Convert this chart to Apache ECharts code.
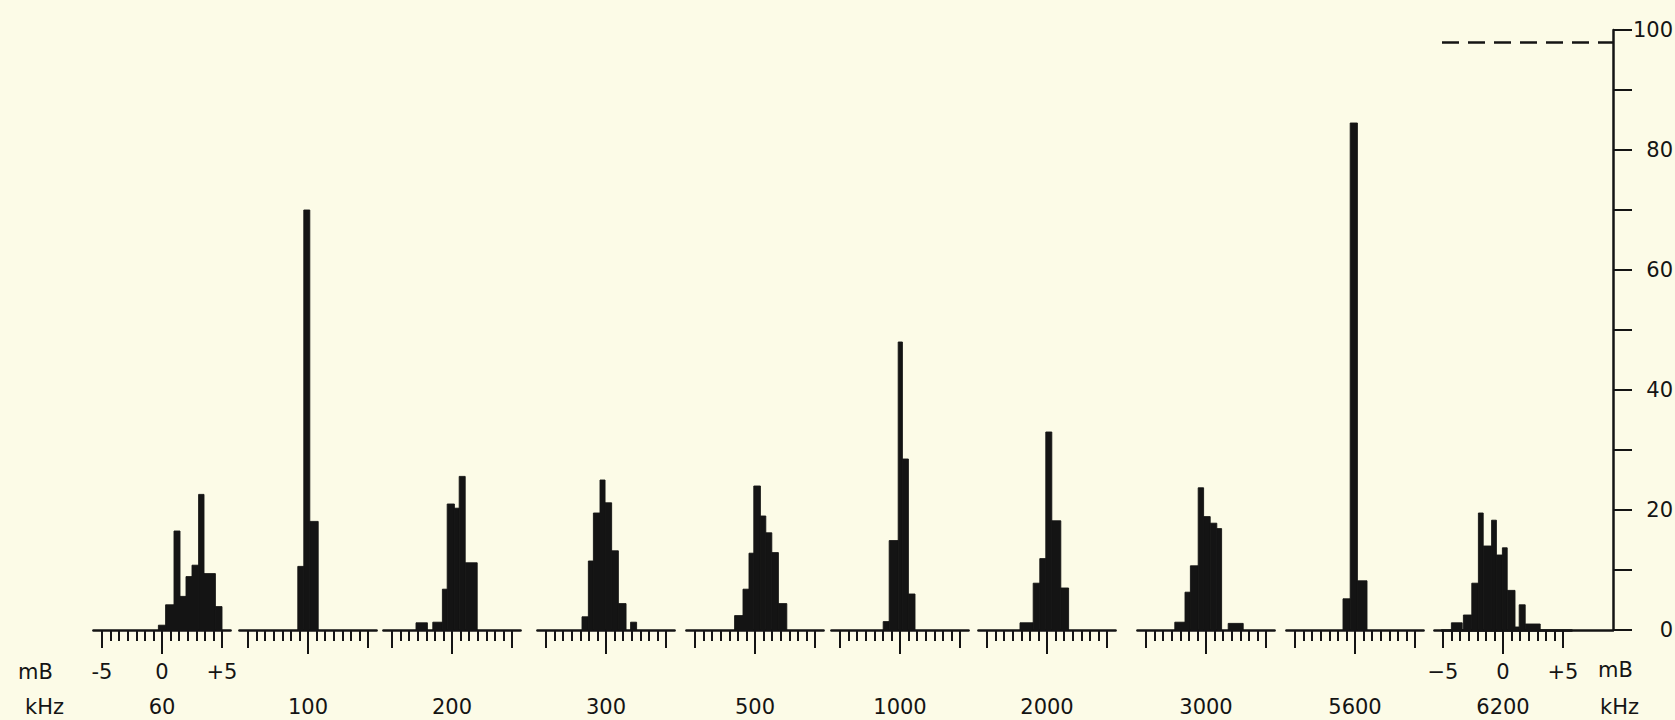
<!DOCTYPE html>
<html>
<head>
<meta charset="utf-8">
<script src="https://cdn.jsdelivr.net/npm/echarts@6/dist/echarts.min.js"></script>
<style>
html,body{margin:0;padding:0;background:#fcfbe7;}
#chart{width:1675px;height:720px;}
</style>
</head>
<body>
<div id="chart"></div>
<script>
// ---- data ----
const frequencies = ['60', '100', '200', '300', '500', '1000', '2000', '3000', '5600', '6200'];

// bin edges (mB) and heights (scale 0-100) for each frequency
const edges60 = [-0.3, 0.3, 1.0, 1.5, 2.0, 2.5, 3.05, 3.5, 4.45, 5.0];
const heights60 = [0.8, 4.2, 16.5, 5.6, 8.9, 10.8, 22.6, 9.4, 3.9];

const edges100 = [-0.85, -0.35, 0.15, 0.85];
const heights100 = [10.6, 70, 18.1];

const edges200 = [-3.0, -2.05, -1.6, -0.8, -0.4, 0.2, 0.6, 1.1, 2.1];
const heights200 = [1.2, 0, 1.3, 6.8, 21, 20.3, 25.6, 11.2];

const edges300 = [-2.0, -1.47, -1.05, -0.5, -0.08, 0.47, 1.03, 1.67, 2.05, 2.55];
const heights300 = [2.2, 11.5, 19.5, 25, 21.2, 13.2, 4.4, 0, 1.3];

const edges500 = [-1.7, -1.0, -0.5, -0.1, 0.45, 0.9, 1.4, 1.95, 2.65];
const heights500 = [2.4, 6.8, 12.8, 24, 19, 16.2, 12.9, 4.4];

const edges1000 = [-1.4, -0.9, -0.15, 0.2, 0.7, 1.25];
const heights1000 = [1.4, 14.9, 48, 28.5, 6];

const edges2000 = [-2.25, -1.15, -0.6, -0.1, 0.4, 1.15, 1.8];
const heights2000 = [1.2, 7.8, 11.9, 33, 18.2, 7];

const edges3000 = [-2.6, -1.75, -1.3, -0.65, -0.2, 0.35, 0.9, 1.3, 1.85, 3.1];
const heights3000 = [1.3, 6.3, 10.7, 23.7, 18.9, 17.8, 16.9, 0, 1.1];

const edges5600 = [-1.0, -0.4, 0.2, 1.0];
const heights5600 = [5.2, 84.5, 8.2];

const edges6200 = [-4.3, -3.4, -3.3, -2.6, -2.05, -1.65, -0.95, -0.55, -0.05, 0.35, 1.0, 1.35, 1.85, 3.1];
const heights6200 = [1.2, 0, 2.5, 7.8, 19.5, 14, 18.3, 12.5, 13.7, 6.6, 0.5, 4.2, 1.0];

const panelEdges = [edges60, edges100, edges200, edges300, edges500, edges1000, edges2000, edges3000, edges5600, edges6200];
const panelHeights = [heights60, heights100, heights200, heights300, heights500, heights1000, heights2000, heights3000, heights5600, heights6200];

// tick labels
const majorTickValues = [-5, 0, 5];
const tickLabelsLeft = ['-5', '0', '+5'];
const tickLabelsRight = ['\u22125', '0', '+5'];
const refLevel = 98;          // dashed reference line
const yTicksMax = 100;

// ---- layout / style ----
const INK = '#141414';
const FONT = 'DejaVu Sans';
const centers = [162, 308, 452, 606, 755, 900, 1047, 1206, 1355, 1503];
const ppu = 12;               // px per mB unit
const half = 40 / 7;          // axis half-range (mB)
const topY = 30, baseY = 630;
const minorTicks = [];
for (let k = 0; k <= 14; k++) minorTicks.push(-5 + k * 5 / 7);

function renderBar(params, api) {
  const x0 = api.value(0), x1 = api.value(1), h = api.value(2);
  if (!(h > 0)) return null;
  const p0 = api.coord([x0, 0]);
  const p1 = api.coord([x1, h]);
  return {
    type: 'rect',
    shape: { x: p0[0], y: p1[1], width: p1[0] - p0[0], height: p0[1] - p1[1] },
    style: { fill: INK, stroke: INK, lineWidth: 0.9 }
  };
}

const option = {
  backgroundColor: '#fcfbe7',
  animation: false,
  textStyle: { fontFamily: FONT, color: INK },
  grid: [], xAxis: [], yAxis: [], series: [], graphic: []
};

frequencies.forEach((freq, i) => {
  const c = centers[i];
  option.grid.push({
    left: c - half * ppu, width: 2 * half * ppu, top: topY, height: baseY - topY,
    containLabel: false, outerBoundsMode: 'none'
  });
  const showLbl = (i === 0 || i === frequencies.length - 1);
  const lbls = i === 0 ? tickLabelsLeft : tickLabelsRight;
  // minor ticks + baseline + panel name
  option.xAxis.push({
    gridIndex: i, type: 'value', min: -half, max: half, position: 'bottom',
    name: freq, nameLocation: 'middle', nameGap: 66,
    nameTextStyle: { fontSize: 21, color: INK, fontFamily: FONT },
    axisLine: { show: true, onZero: false, lineStyle: { color: INK, width: 2.5 } },
    axisTick: { show: true, customValues: minorTicks, length: 11, lineStyle: { color: INK, width: 2 } },
    axisLabel: { show: false }, splitLine: { show: false }
  });
  // -5 / +5 ticks and labels
  option.xAxis.push({
    gridIndex: i, type: 'value', min: -half, max: half, position: 'bottom',
    axisLine: { show: false, onZero: false },
    axisTick: { show: true, customValues: [-5, 5], length: 18, lineStyle: { color: INK, width: 2 } },
    axisLabel: {
      show: showLbl, customValues: majorTickValues, margin: 31,
      fontSize: 21, color: INK, fontFamily: FONT,
      formatter: v => lbls[majorTickValues.indexOf(Math.round(v))]
    },
    splitLine: { show: false }
  });
  // centre tick
  option.xAxis.push({
    gridIndex: i, type: 'value', min: -half, max: half, position: 'bottom',
    axisLine: { show: false, onZero: false },
    axisTick: { show: true, customValues: [0], length: 24, lineStyle: { color: INK, width: 2 } },
    axisLabel: { show: false }, splitLine: { show: false }
  });
  option.yAxis.push({ gridIndex: i, type: 'value', min: 0, max: yTicksMax, show: false });
  const ed = panelEdges[i], hs = panelHeights[i];
  option.series.push({
    type: 'custom', name: freq + ' kHz',
    xAxisIndex: 3 * i, yAxisIndex: i,
    renderItem: renderBar, clip: false,
    encode: { x: [0, 1], y: 2 },
    data: hs.map((h, k) => [ed[k], ed[k + 1], h])
  });
});

// right-hand scale
const gi = frequencies.length;
option.grid.push({ left: 1442, width: 171, top: topY, height: baseY - topY, containLabel: false, outerBoundsMode: 'none' });
option.xAxis.push({
  gridIndex: gi, type: 'value', min: 0, max: 1, position: 'bottom',
  axisLine: { show: true, onZero: false, lineStyle: { color: INK, width: 2.5 } },
  axisTick: { show: false }, axisLabel: { show: false }, splitLine: { show: false }
});
option.yAxis.push({
  gridIndex: gi, type: 'value', position: 'right', min: 0, max: yTicksMax, interval: 10,
  axisLine: { show: true, onZero: false, lineStyle: { color: INK, width: 2.5 } },
  axisTick: { show: true, inside: false, length: 19, lineStyle: { color: INK, width: 2 } },
  axisLabel: {
    show: true, align: 'right', margin: 60, fontSize: 21, color: INK, fontFamily: FONT,
    formatter: v => (Math.round(v) % 20 === 0 ? String(Math.round(v)) : '')
  },
  splitLine: { show: false }
});
option.series.push({
  type: 'line', xAxisIndex: 3 * gi, yAxisIndex: gi, data: [], silent: true,
  markLine: {
    silent: true, symbol: ['none', 'none'], label: { show: false },
    lineStyle: { type: [17, 9], width: 2.5, color: INK },
    data: [{ yAxis: refLevel }]
  }
});

// unit captions
const cap = { fontSize: 21, fill: INK, fontFamily: FONT };
option.graphic = [
  { type: 'text', left: 18, top: 661, style: Object.assign({ text: 'mB' }, cap) },
  { type: 'text', left: 25, top: 696, style: Object.assign({ text: 'kHz' }, cap) },
  { type: 'text', left: 1598, top: 659, style: Object.assign({ text: 'mB' }, cap) },
  { type: 'text', left: 1600, top: 696, style: Object.assign({ text: 'kHz' }, cap) }
];

const chart = echarts.init(document.getElementById('chart'), null, { renderer: 'svg' });
chart.setOption(option);
</script>
</body>
</html>
